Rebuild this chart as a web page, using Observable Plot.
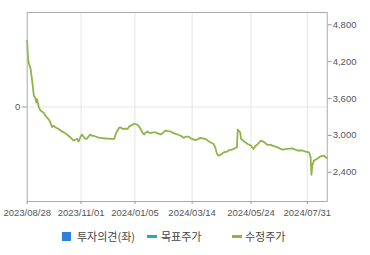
<!DOCTYPE html>
<html><head><meta charset="utf-8">
<script src="https://cdn.jsdelivr.net/npm/d3@7"></script>
<script src="https://cdn.jsdelivr.net/npm/@observablehq/plot@0.6"></script>
<style>
body{margin:0;background:#fff;width:370px;height:255px;overflow:hidden}
#legend{position:relative;height:34px;font-family:"Noto Sans CJK KR","Noto Sans",sans-serif;font-size:11px;color:#444}
#legend .sw,#legend .tx{position:absolute}
</style></head><body>
<div id="chart"></div>
<div id="legend"></div>
<script>
const dates = ["2023-08-28","2023-08-29","2023-08-30","2023-09-01","2023-09-03","2023-09-04","2023-09-05","2023-09-07","2023-09-08","2023-09-09",
"2023-09-11","2023-09-13","2023-09-17","2023-09-19","2023-09-21","2023-09-23","2023-09-25","2023-09-27","2023-09-29","2023-10-01",
"2023-10-05","2023-10-07","2023-10-11","2023-10-15","2023-10-19","2023-10-23","2023-10-25","2023-10-27","2023-10-29","2023-10-31",
"2023-11-02","2023-11-04","2023-11-06","2023-11-08","2023-11-10","2023-11-12","2023-11-14","2023-11-16","2023-11-21","2023-11-24",
"2023-12-01","2023-12-07","2023-12-11","2023-12-13","2023-12-15","2023-12-17","2023-12-19","2023-12-21","2023-12-24","2023-12-27",
"2023-12-29","2023-12-31","2024-01-04","2024-01-08","2024-01-10","2024-01-12","2024-01-14","2024-01-16","2024-01-18","2024-01-20",
"2024-01-22","2024-01-24","2024-01-27","2024-01-30","2024-02-02","2024-02-05","2024-02-08","2024-02-11","2024-02-14","2024-02-17",
"2024-02-20","2024-02-23","2024-02-26","2024-02-29","2024-03-02","2024-03-04","2024-03-06","2024-03-10","2024-03-12","2024-03-14",
"2024-03-18","2024-03-21","2024-03-24","2024-03-27","2024-03-30","2024-04-02","2024-04-05","2024-04-09","2024-04-11","2024-04-13",
"2024-04-15","2024-04-17","2024-04-21","2024-04-25","2024-04-27","2024-05-01","2024-05-03","2024-05-05","2024-05-07","2024-05-08",
"2024-05-09","2024-05-11","2024-05-12","2024-05-16","2024-05-20","2024-05-24","2024-05-27","2024-05-29","2024-06-01","2024-06-05",
"2024-06-09","2024-06-13","2024-06-17","2024-06-19","2024-06-25","2024-07-01","2024-07-07","2024-07-13","2024-07-19","2024-07-25",
"2024-07-29","2024-08-02","2024-08-04","2024-08-05","2024-08-06","2024-08-08","2024-08-12","2024-08-16","2024-08-20","2024-08-24"];
const prices = [4540,4250,4170,4090,3890,3760,3650,3600,3535,3585,
3460,3405,3370,3320,3290,3260,3210,3135,3160,3130,
3105,3080,3050,3015,2970,2915,2930,2945,2900,2965,
3015,2980,2945,2945,2980,3015,2995,2995,2970,2960,
2950,2945,2945,3025,3080,3125,3130,3105,3110,3105,
3145,3160,3190,3175,3145,3105,3045,3015,3045,3065,
3045,3040,3050,3050,3030,3015,3045,3080,3070,3065,
3040,3025,3015,2995,2980,2960,2980,2980,2955,2945,
2925,2940,2960,2950,2945,2915,2890,2860,2800,2700,
2670,2680,2725,2735,2755,2770,2780,2795,2805,3095,
3080,3050,2945,2900,2860,2835,2780,2820,2860,2915,
2890,2845,2845,2835,2805,2770,2780,2790,2755,2755,
2735,2725,2645,2360,2510,2590,2620,2660,2670,2630];
const xTickDates = ["2023-08-28","2023-11-01","2024-01-05","2024-03-14","2024-05-24","2024-07-31"];
const xDomainDates = ["2023-08-28","2024-08-24"];
const priceTicks = [2400,3000,3600,4200,4800];
const priceDomain = [1925,5000];
const opinionTicks = [0];
const opinionDomain = [-1,1];
const legendLabels = ["투자의견(좌)","목표주가","수정주가"];
const legendColors = ["#2f7fdc","#27a9b9","#8db54b"];

const parse = d3.utcParse("%Y-%m-%d");
const data = dates.map((d,i)=>({date:parse(d), price:prices[i]}));
const xTicks = xTickDates.map(parse);
// left (opinion) axis mapped onto the price scale
const opToPrice = d3.scaleLinear().domain(opinionDomain).range(priceDomain);
const opTickPos = opinionTicks.map(v=>opToPrice(v));

const chart = Plot.plot({
  width:370, height:221,
  marginLeft:26.7, marginRight:43.3, marginTop:12, marginBottom:20,
  style:{fontFamily:"'Liberation Sans', Arial, sans-serif", fontSize:"9.5px", color:"#555", background:"#fff"},
  x:{type:"utc", domain:xDomainDates.map(parse), label:null},
  y:{domain:priceDomain, label:null},
  marks:[
    Plot.gridX(xTicks.slice(1), {stroke:"#e4e4e4", strokeOpacity:1}),
    Plot.gridY(opTickPos, {stroke:"#e4e4e4", strokeOpacity:1}),
    Plot.line(data, {x:"date", y:"price", stroke:legendColors[2], strokeWidth:1.8}),
    Plot.frame({stroke:"#aaa"}),
    Plot.axisX({ticks:xTicks, tickFormat:d3.utcFormat("%Y/%m/%d"), tickSize:3, tickPadding:5, stroke:"#999", fill:"#555"}),
    Plot.axisY({anchor:"right", ticks:priceTicks, tickFormat:d3.format(","), tickSize:4, tickPadding:1.5, stroke:"#999", fill:"#555"}),
    Plot.axisY({anchor:"left", ticks:opTickPos, tickFormat:d=>String(Math.round(opToPrice.invert(d))), tickSize:5, tickPadding:2, stroke:"#999", fill:"#555"})
  ]
});
document.getElementById("chart").appendChild(chart);

const lg = document.getElementById("legend");
const items = [
  {sw:{left:62,top:11,width:9,height:9}, tx:77},
  {sw:{left:147,top:14,width:10,height:3}, tx:161},
  {sw:{left:232,top:14,width:10,height:3}, tx:245}
];
items.forEach((it,i)=>{
  const s = document.createElement("span");
  s.className="sw";
  Object.assign(s.style,{left:it.sw.left+"px",top:it.sw.top+"px",width:it.sw.width+"px",height:it.sw.height+"px",background:legendColors[i]});
  lg.appendChild(s);
  const t = document.createElement("span");
  t.className="tx";
  t.textContent = legendLabels[i];
  Object.assign(t.style,{left:it.tx+"px",top:"6px",lineHeight:"18px"});
  lg.appendChild(t);
});
</script>
</body></html>
